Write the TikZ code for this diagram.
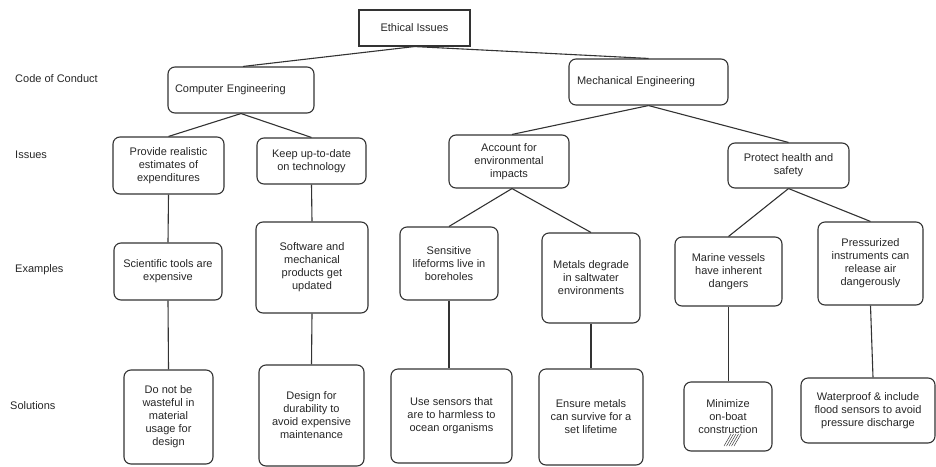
\documentclass[tikz,border=0pt]{standalone}
\usepackage{fontspec}
\setmainfont{Liberation Sans}
\begin{document}
\begin{tikzpicture}[x=1pt,y=-1pt,
  every node/.style={font=\fontsize{11}{13}\selectfont, text=black!85},
  bx/.style={draw=black!80, line width=1.1pt, rounded corners=7pt, align=center, inner xsep=3pt, inner ysep=2pt},
  sq/.style={draw=black!80, line width=1.1pt, align=center},
  lbl/.style={anchor=west, inner sep=0pt},
  conn/.style={draw=black!80, line width=1.1pt}]
\useasboundingbox (0,0) rectangle (936,466);

% row labels
\node[lbl] (l1) at (15,79) {Code of Conduct};
\node[lbl] (l2) at (15,155) {Issues};
\node[lbl] (l3) at (15,270) {Examples};
\node[lbl] (l4) at (10,406) {Solutions};

% top
\node[sq, minimum width=111pt, minimum height=36pt] (ei) at (414.5,28) {Ethical Issues};

% code of conduct
\node[bx, minimum width=146pt, minimum height=46pt, text width=132pt, align=left, inner xsep=7pt] (ce) at (241,90) {Computer Engineering};
\node[bx, minimum width=159pt, minimum height=46pt, text width=143pt, align=left, inner xsep=8pt] (me) at (648.5,82) {Mechanical Engineering};

% issues
\node[bx, minimum width=111pt, minimum height=57pt] (pr1) at (168.5,165.5) {Provide realistic\\estimates of\\expenditures};
\node[bx, minimum width=109pt, minimum height=46pt] (ku) at (311.5,161) {Keep up-to-date\\on technology};
\node[bx, minimum width=120pt, minimum height=53pt] (ac) at (509,161.5) {Account for\\environmental\\impacts};
\node[bx, minimum width=121pt, minimum height=45pt] (ph) at (788.5,165.5) {Protect health and\\safety};

% examples
\node[bx, minimum width=108pt, minimum height=57pt] (st) at (168,271.5) {Scientific tools are\\expensive};
\node[bx, minimum width=112pt, minimum height=91pt] (sw) at (312,267.5) {Software and\\mechanical\\products get\\updated};
\node[bx, minimum width=98pt, minimum height=73pt] (sl) at (449,263.5) {Sensitive\\lifeforms live in\\boreholes};
\node[bx, minimum width=98pt, minimum height=90pt] (md) at (591,278) {Metals degrade\\in saltwater\\environments};
\node[bx, minimum width=107pt, minimum height=69pt] (mv) at (728.5,271.5) {Marine vessels\\have inherent\\dangers};
\node[bx, minimum width=105pt, minimum height=83pt] (pi) at (870.5,263.5) {Pressurized\\instruments can\\release air\\dangerously};

% solutions
\node[bx, minimum width=89pt, minimum height=94pt] (dn) at (168.5,417) {Do not be\\wasteful in\\material\\usage for\\design};
\node[bx, minimum width=105pt, minimum height=101pt] (dd) at (311.5,415.5) {Design for\\durability to\\avoid expensive\\maintenance};
\node[bx, minimum width=121pt, minimum height=94pt] (us) at (451.5,416) {Use sensors that\\are to harmless to\\ocean organisms};
\node[bx, minimum width=104pt, minimum height=96pt] (em) at (591,417) {Ensure metals\\can survive for a\\set lifetime};
\node[bx, minimum width=88pt, minimum height=69pt] (mi) at (728,416.5) {Minimize\\on-boat\\construction};
\node[bx, minimum width=134pt, minimum height=65pt] (wp) at (868,410.5) {Waterproof \& include\\flood sensors to avoid\\pressure discharge};

% hatch mark
\foreach \i in {0,2.5,5,7.5,10} \draw[black!75, line width=0.5pt] (724+\i,446) -- (731+\i,434);

% connectors
\draw[conn] (ei.south) -- ([xshift=2pt]ce.north);
\draw[conn] (ei.south) -- (me.north);
\draw[conn] (ce.south) -- (pr1.north);
\draw[conn] (ce.south) -- (ku.north);
\draw[conn] (me.south) -- ([xshift=3pt]ac.north);
\draw[conn] (me.south) -- (ph.north);
\draw[conn] (pr1.south) -- (st.north);
\draw[conn] (st.south) -- (dn.north);
\draw[conn] (ku.south) -- (sw.north);
\draw[conn] (sw.south) -- (dd.north);
\draw[conn] ([xshift=3pt]ac.south) -- (sl.north);
\draw[conn] ([xshift=3pt]ac.south) -- (md.north);
\draw[conn] (sl.south) -- (sl.south |- us.north);
\draw[conn] (md.south) -- (em.north);
\draw[conn] (ph.south) -- (mv.north);
\draw[conn] (ph.south) -- (pi.north);
\draw[conn] (mv.south) -- (mv.south |- mi.north);
\draw[conn] (pi.south) -- ([xshift=5pt]wp.north);
\end{tikzpicture}
\end{document}
